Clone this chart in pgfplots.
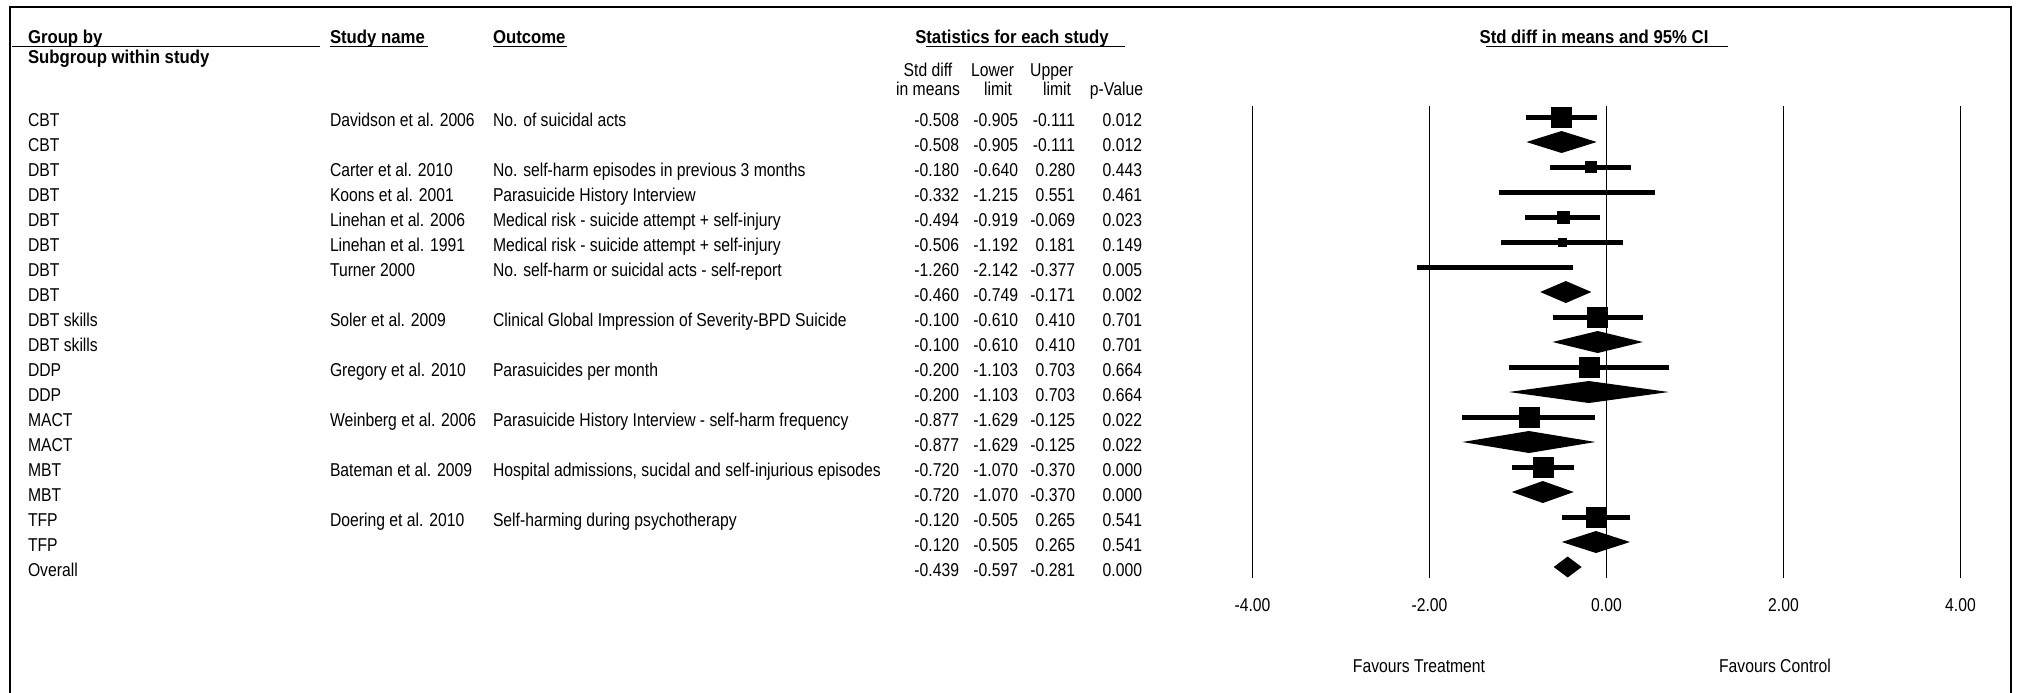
\documentclass[border=0pt]{standalone}
\usepackage{fontspec}
\setmainfont[FakeStretch=0.845]{Liberation Sans}
\newfontfamily\hdr[FakeStretch=0.9]{Liberation Sans Bold}
\usepackage{pgfplots}
\pgfplotsset{compat=1.18}

% study rows: row est lo hi halfsize(bp)
\newcommand{\study}[5]{%
  \addplot[black, line width=5bp, line cap=butt, forget plot] coordinates {(#3,#1) (#4,#1)};
  \addplot[black, only marks, mark=square*, mark size=#5bp, forget plot] coordinates {(#2,#1)};
}
\newcommand{\rowtext}[8]{%
  \node[anchor=base west] at (28,#1) {#2};
  \node[anchor=base west] at (330,#1) {#3};
  \node[anchor=base west] at (493,#1) {#4};
  \node[anchor=base east] at (959,#1) {#5};
  \node[anchor=base east] at (1018,#1) {#6};
  \node[anchor=base east] at (1075,#1) {#7};
  \node[anchor=base east] at (1142,#1) {#8};
}

\begin{document}
\fontsize{18.6bp}{22bp}\selectfont
\begin{tikzpicture}[every node/.style={inner sep=0pt, outer sep=0pt}]
\begin{axis}[at={(0,0)}, anchor=north west, scale only axis,
  width=2018bp, height=693bp,
  xmin=-18.1525, xmax=4.6497, ymin=-3.68, ymax=24.04,
  y dir=reverse, clip=false, hide axis]

% reference lines
\addplot[black, line width=1.3bp] coordinates {(-4,0.56) (-4,19.44)};
\addplot[black, line width=1.3bp] coordinates {(-2,0.56) (-2,19.44)};
\addplot[black, line width=1.3bp] coordinates {(0,0.56) (0,19.44)};
\addplot[black, line width=1.3bp] coordinates {(2,0.56) (2,19.44)};
\addplot[black, line width=1.3bp] coordinates {(4,0.56) (4,19.44)};

% individual studies
\study{1}{-0.508}{-0.905}{-0.111}{10}
\study{3}{-0.180}{-0.640}{0.280}{5.5}
\study{4}{-0.332}{-1.215}{0.551}{2}
\study{5}{-0.494}{-0.919}{-0.069}{6}
\study{6}{-0.506}{-1.192}{0.181}{4}
\study{7}{-1.260}{-2.142}{-0.377}{2}
\study{9}{-0.100}{-0.610}{0.410}{10}
\study{11}{-0.200}{-1.103}{0.703}{10}
\study{13}{-0.877}{-1.629}{-0.125}{10}
\study{15}{-0.720}{-1.070}{-0.370}{10}
\study{17}{-0.120}{-0.505}{0.265}{10}

% subgroup and overall diamonds
\addplot[fill=black, draw=none] coordinates {(-0.905,2) (-0.508,1.56) (-0.111,2) (-0.508,2.44)} --cycle;
\addplot[fill=black, draw=none] coordinates {(-0.749,8) (-0.460,7.56) (-0.171,8) (-0.460,8.44)} --cycle;
\addplot[fill=black, draw=none] coordinates {(-0.610,10) (-0.100,9.56) (0.410,10) (-0.100,10.44)} --cycle;
\addplot[fill=black, draw=none] coordinates {(-1.103,12) (-0.200,11.56) (0.703,12) (-0.200,12.44)} --cycle;
\addplot[fill=black, draw=none] coordinates {(-1.629,14) (-0.877,13.56) (-0.125,14) (-0.877,14.44)} --cycle;
\addplot[fill=black, draw=none] coordinates {(-1.070,16) (-0.720,15.56) (-0.370,16) (-0.720,16.44)} --cycle;
\addplot[fill=black, draw=none] coordinates {(-0.505,18) (-0.120,17.56) (0.265,18) (-0.120,18.44)} --cycle;
\addplot[fill=black, draw=none] coordinates {(-0.597,19) (-0.439,18.58) (-0.281,19) (-0.439,19.42)} --cycle;
\end{axis}

\begin{scope}[x=1bp, y=-1bp]
% frame
\draw[line width=2bp] (10,693) -- (10,7) -- (2011,7) -- (2011,693);
% headers
\node[anchor=base west] at (28,43) {\hdr Group by};
\node[anchor=base west] at (28,63) {\hdr Subgroup within study};
\node[anchor=base west] at (330,43) {\hdr Study name};
\node[anchor=base west] at (493,43) {\hdr Outcome};
\node[anchor=base] at (1012,43) {\hdr Statistics for each study};
\node[anchor=base] at (1594,43) {\hdr Std diff in means and 95\% CI};
\draw[line width=1.5bp] (12,46.5) -- (320,46.5);
\draw[line width=1.5bp] (330,46.5) -- (428,46.5);
\draw[line width=1.5bp] (493,46.5) -- (567,46.5);
\draw[line width=1.5bp] (926,46.5) -- (1125,46.5);
\draw[line width=1.5bp] (1486,46.5) -- (1728,46.5);
\node[anchor=base] at (928,76) {Std diff};
\node[anchor=base] at (928,95) {in means};
\node[anchor=base east] at (1014,76) {Lower};
\node[anchor=base east] at (1012,95) {limit};
\node[anchor=base east] at (1073,76) {Upper};
\node[anchor=base east] at (1071,95) {limit};
\node[anchor=base east] at (1143,95) {p-Value};
% rows
\rowtext{126}{CBT}{Davidson et al. 2006}{No. of suicidal acts}{-0.508}{-0.905}{-0.111}{0.012}
\rowtext{151}{CBT}{}{}{-0.508}{-0.905}{-0.111}{0.012}
\rowtext{176}{DBT}{Carter et al. 2010}{No. self-harm episodes in previous 3 months}{-0.180}{-0.640}{0.280}{0.443}
\rowtext{201}{DBT}{Koons et al. 2001}{Parasuicide History Interview}{-0.332}{-1.215}{0.551}{0.461}
\rowtext{226}{DBT}{Linehan et al. 2006}{Medical risk - suicide attempt + self-injury}{-0.494}{-0.919}{-0.069}{0.023}
\rowtext{251}{DBT}{Linehan et al. 1991}{Medical risk - suicide attempt + self-injury}{-0.506}{-1.192}{0.181}{0.149}
\rowtext{276}{DBT}{Turner 2000}{No. self-harm or suicidal acts - self-report}{-1.260}{-2.142}{-0.377}{0.005}
\rowtext{301}{DBT}{}{}{-0.460}{-0.749}{-0.171}{0.002}
\rowtext{326}{DBT skills}{Soler et al. 2009}{Clinical Global Impression of Severity-BPD Suicide}{-0.100}{-0.610}{0.410}{0.701}
\rowtext{351}{DBT skills}{}{}{-0.100}{-0.610}{0.410}{0.701}
\rowtext{376}{DDP}{Gregory et al. 2010}{Parasuicides per month}{-0.200}{-1.103}{0.703}{0.664}
\rowtext{401}{DDP}{}{}{-0.200}{-1.103}{0.703}{0.664}
\rowtext{426}{MACT}{Weinberg et al. 2006}{Parasuicide History Interview - self-harm frequency}{-0.877}{-1.629}{-0.125}{0.022}
\rowtext{451}{MACT}{}{}{-0.877}{-1.629}{-0.125}{0.022}
\rowtext{476}{MBT}{Bateman et al. 2009}{Hospital admissions, sucidal and self-injurious episodes}{-0.720}{-1.070}{-0.370}{0.000}
\rowtext{501}{MBT}{}{}{-0.720}{-1.070}{-0.370}{0.000}
\rowtext{526}{TFP}{Doering et al. 2010}{Self-harming during psychotherapy}{-0.120}{-0.505}{0.265}{0.541}
\rowtext{551}{TFP}{}{}{-0.120}{-0.505}{0.265}{0.541}
\rowtext{576}{Overall}{}{}{-0.439}{-0.597}{-0.281}{0.000}
% x tick labels
\node[anchor=base] at (1252.5,611) {-4.00};
\node[anchor=base] at (1429.5,611) {-2.00};
\node[anchor=base] at (1606.5,611) {0.00};
\node[anchor=base] at (1783.5,611) {2.00};
\node[anchor=base] at (1960.5,611) {4.00};
\node[anchor=base] at (1419,672) {Favours Treatment};
\node[anchor=base] at (1775,672) {Favours Control};
\end{scope}
\pgfresetboundingbox
\path[use as bounding box] (0,0) rectangle (2018bp,-693bp);
\end{tikzpicture}
\end{document}
